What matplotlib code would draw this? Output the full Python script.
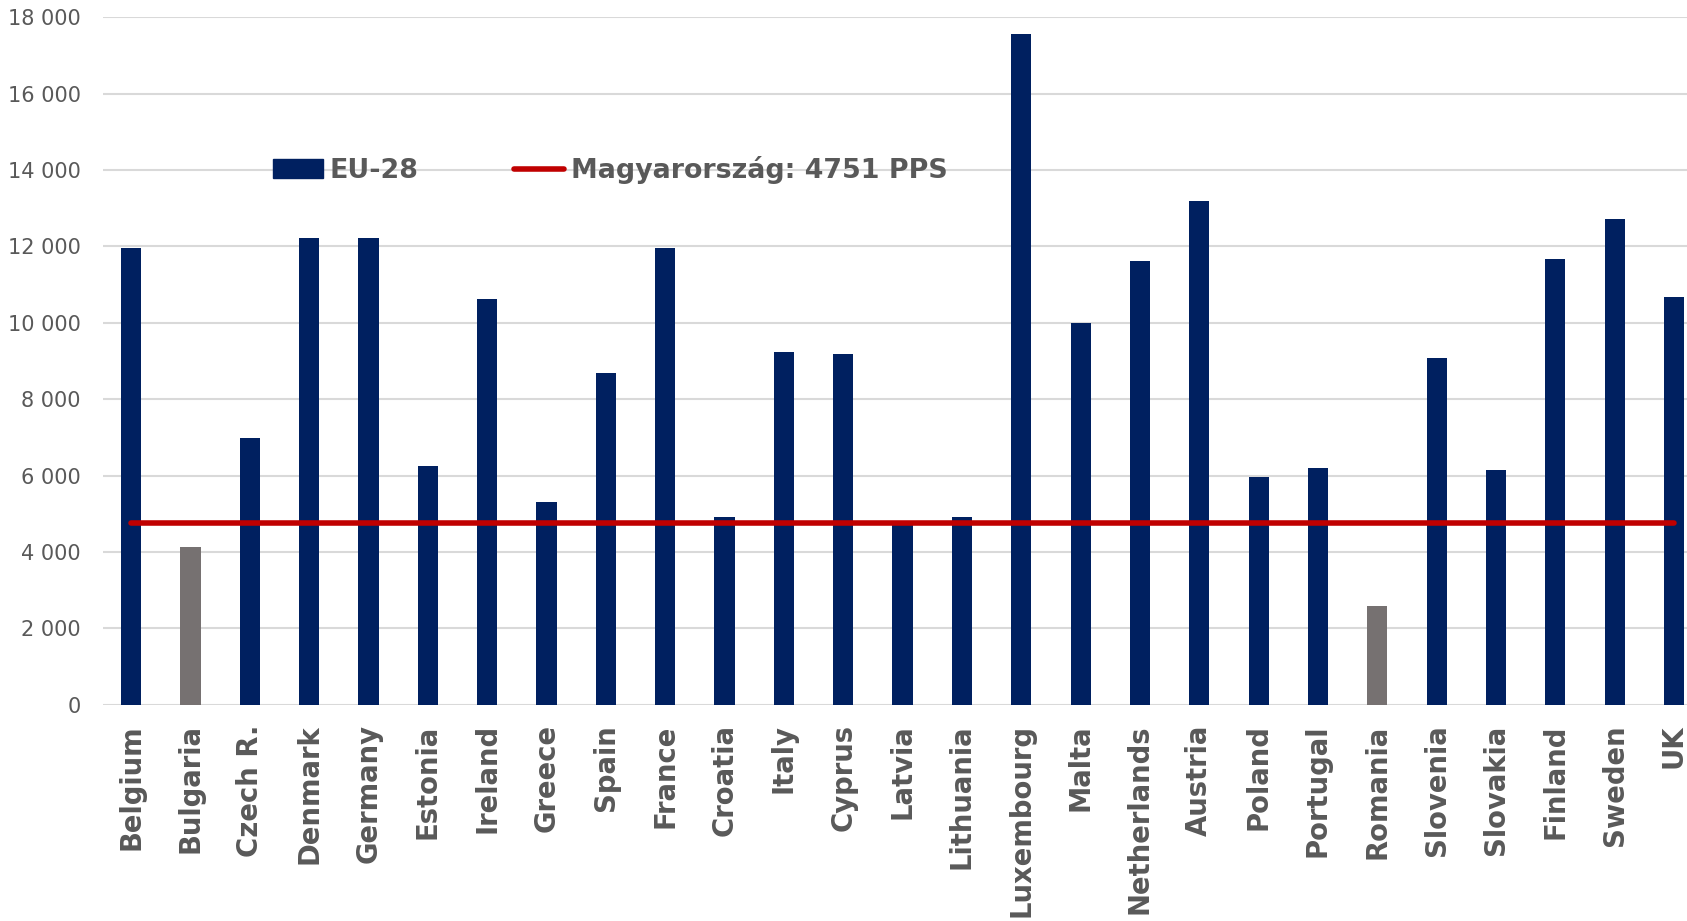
import numpy as np
import matplotlib
matplotlib.use('Agg')
import matplotlib.pyplot as plt
from matplotlib.patches import Patch
from matplotlib.lines import Line2D

# --- data (PPS)
countries = ['Belgium', 'Bulgaria', 'Czech R.', 'Denmark', 'Germany', 'Estonia',
             'Ireland', 'Greece', 'Spain', 'France', 'Croatia', 'Italy', 'Cyprus',
             'Latvia', 'Lithuania', 'Luxembourg', 'Malta', 'Netherlands', 'Austria',
             'Poland', 'Portugal', 'Romania', 'Slovenia', 'Slovakia', 'Finland',
             'Sweden', 'UK']
values = [11950, 4120, 6990, 12230, 12230, 6260, 10620, 5300, 8680, 11950,
          4930, 9240, 9180, 4800, 4930, 17550, 10000, 11630, 13180, 5970,
          6200, 2600, 9070, 6140, 11660, 12730, 10680]
grey_countries = ['Bulgaria', 'Romania']
hungary = 4751

yticks = np.arange(0, 18001, 2000)
ytick_labels = [f'{t:,}'.replace(',', ' ') for t in yticks]

navy = '#002060'
grey = '#767171'
red = '#C00000'
text_col = '#595959'

plt.rcParams['font.family'] = ['DejaVu Sans']

fig = plt.figure(figsize=(16.87, 9.21), dpi=100)
ax = fig.add_axes((0.0609, 0.2347, 0.9391, 0.7466))

x = np.arange(len(countries))
colors = [grey if c in grey_countries else navy for c in countries]
ax.bar(x, values, width=0.34, color=colors, zorder=2)

ax.plot(x, [hungary] * len(x), color=red, lw=4, solid_capstyle='round', zorder=3)

ax.set_xlim(-0.48, 26.22)
ax.set_ylim(0, 18000)
ax.set_yticks(yticks)
ax.set_yticklabels(ytick_labels, fontsize=15, color=text_col)
ax.set_xticks(x)
ax.set_xticklabels(countries, rotation=90, fontsize=19.8, fontweight='bold',
                   color=text_col, va='top')
ax.tick_params(axis='both', length=0)
ax.tick_params(axis='y', pad=16)
ax.tick_params(axis='x', pad=14)

ax.grid(axis='y', color='#D9D9D9', lw=1.5, zorder=0)
ax.set_axisbelow(True)
for s in ax.spines.values():
    s.set_visible(False)

handles = [Patch(color=navy, label='EU-28'),
           Line2D([], [], color=red, lw=4, solid_capstyle='round',
                  label=f'Magyarország: {hungary} PPS')]
leg = ax.legend(handles=handles, ncol=2, frameon=False, loc='center left',
                bbox_to_anchor=(273 / 1687, 1 - 170 / 921),
                bbox_transform=fig.transFigure, borderpad=0, borderaxespad=0,
                handlelength=1.85, handletextpad=0.25, columnspacing=3.55,
                prop={'size': 19.4, 'weight': 'bold'})
for t in leg.get_texts():
    t.set_color(text_col)

fig.savefig('out.png', dpi=100)
